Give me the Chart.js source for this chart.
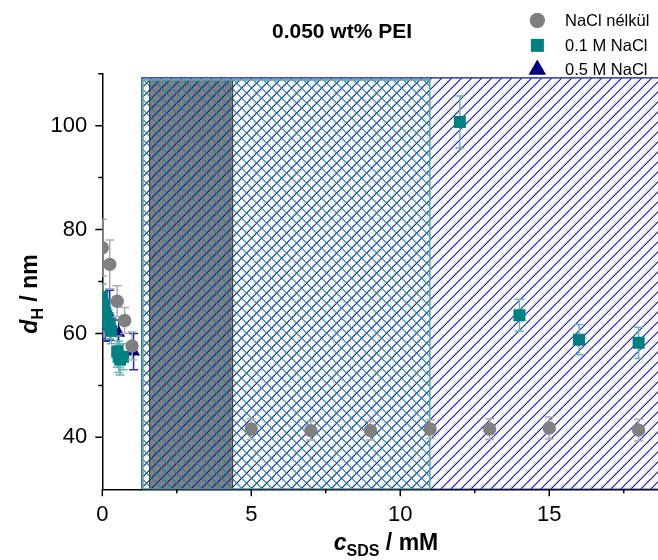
<!DOCTYPE html>
<html>
<head>
<meta charset="utf-8">
<script src="https://cdn.jsdelivr.net/npm/chart.js@4/dist/chart.umd.min.js"></script>
<style>
html,body{margin:0;padding:0;background:#fff;overflow:hidden;width:658px;height:560px;}
canvas{display:block;}
</style>
</head>
<body>
<canvas id="c" width="658" height="560"></canvas>
<script>
// ---- data ----
const grayX = [0, 0.25, 0.5, 0.75, 1.0, 5, 7, 9, 11, 13, 15, 18];
const grayY = [76.5, 73.3, 66.2, 62.5, 57.6, 41.6, 41.3, 41.3, 41.6, 41.6, 41.8, 41.4];
const grayErr = [5.5, 4.7, 3, 2.5, 2.7, 2, 1.8, 1.8, 1.8, 2, 2.1, 2.1];

const tealX = [0, 0.05, 0.1, 0.15, 0.2, 0.25, 0.3, 0.5, 0.55, 0.6, 0.7, 12, 14, 16, 18];
const tealY = [67, 65.5, 64, 63, 62, 61.5, 60.5, 56.5, 55.5, 55, 55.5, 100.7, 63.5, 58.8, 58.2];
const tealErr = [2.5, 2.5, 2.5, 2.5, 2.5, 2.5, 2.5, 3, 3, 3, 2.5, 5, 3.1, 2.9, 3];

const navyX = [0, 0.1, 0.25, 0.55, 1.05];
const navyY = [62, 61.5, 63.5, 60.1, 56.5];
const navyErr = [3, 3, 4.8, 2.5, 3.5];

const xTicks = [0, 5, 10, 15];
const xMinor = [2.5, 7.5, 12.5, 17.5];
const yTicks = [40, 60, 80, 100];
const yMinor = [50, 70, 90, 110];

// phase regions (mM / nm)
const blueRegion = [1.33, 19, 30, 109.2];
const tealRegion = [1.36, 10.99, 30, 108.8];
const grayRegion = [1.59, 4.375, 30, 108.8];

const legendLabels = ['NaCl nélkül', '0.1 M NaCl', '0.5 M NaCl'];
const titleText = '0.050 wt% PEI';

// ---- chart ----
const FAM = 'Arial, "Liberation Sans", sans-serif';
Chart.defaults.font.family = FAM;
Chart.defaults.color = '#000';

const toPts = (xs, ys) => xs.map((x, i) => ({x: x, y: ys[i]}));

function hatch(ctx, x0, y0, x1, y1, dir, spacing, color, width) {
  ctx.save();
  ctx.beginPath(); ctx.rect(x0, y0, x1 - x0, y1 - y0); ctx.clip();
  ctx.strokeStyle = color; ctx.lineWidth = width;
  ctx.beginPath();
  const h = y1 - y0;
  for (let c = x0 - h - spacing; c < x1 + h + spacing; c += spacing) {
    if (dir > 0) { ctx.moveTo(c, y1); ctx.lineTo(c + h, y0); }
    else { ctx.moveTo(c, y0); ctx.lineTo(c + h, y1); }
  }
  ctx.stroke();
  ctx.restore();
}

const regionsPlugin = {
  id: 'regions',
  beforeDatasetsDraw(chart) {
    const ctx = chart.ctx, xs = chart.scales.x, ys = chart.scales.y, a = chart.chartArea;
    const R = r => [xs.getPixelForValue(r[0]), ys.getPixelForValue(r[3]), xs.getPixelForValue(r[1]), ys.getPixelForValue(r[2])];
    ctx.save();
    ctx.beginPath(); ctx.rect(a.left, a.top - 10, a.right - a.left, a.bottom - a.top + 10); ctx.clip();
    const g = R(grayRegion), b = R(blueRegion), t = R(tealRegion);
    ctx.fillStyle = '#808080';
    ctx.fillRect(g[0], g[1], g[2] - g[0], g[3] - g[1]);
    hatch(ctx, b[0], b[1], b[2], b[3], 1, 10, '#1414b4', 1.15);
    hatch(ctx, t[0], t[1], t[2], t[3], -1, 10, '#0e8c88', 1.15);
    ctx.lineWidth = 1;
    ctx.strokeStyle = '#333333';
    ctx.strokeRect(g[0], g[1], g[2] - g[0], g[3] - g[1]);
    ctx.lineWidth = 1.6;
    ctx.strokeStyle = '#3446bb';
    ctx.strokeRect(b[0], b[1], b[2] - b[0], b[3] - b[1]);
    ctx.lineWidth = 1.8;
    ctx.strokeStyle = '#5aaaa6';
    ctx.strokeRect(t[0], t[1], t[2] - t[0], t[3] - t[1]);
    ctx.restore();
  }
};

const errorPlugin = {
  id: 'errbars',
  beforeDatasetDraw(chart, args) {
    const ds = chart.data.datasets[args.index];
    if (!ds.errors) return;
    const ctx = chart.ctx, xs = chart.scales.x, ys = chart.scales.y, a = chart.chartArea;
    ctx.save();
    ctx.beginPath(); ctx.rect(a.left, a.top, a.right - a.left, a.bottom - a.top); ctx.clip();
    ctx.strokeStyle = ds.errColor; ctx.lineWidth = 1.5;
    ds.data.forEach((p, i) => {
      const e = ds.errors[i];
      const px = xs.getPixelForValue(p.x);
      const top = ys.getPixelForValue(p.y + e), bot = ys.getPixelForValue(p.y - e);
      ctx.beginPath();
      ctx.moveTo(px, top); ctx.lineTo(px, bot);
      ctx.moveTo(px - 4.5, top); ctx.lineTo(px + 4.5, top);
      ctx.moveTo(px - 4.5, bot); ctx.lineTo(px + 4.5, bot);
      ctx.stroke();
    });
    ctx.restore();
  }
};

function richText(ctx, parts, cx, cy) {
  let total = 0;
  parts.forEach(p => { ctx.font = p[1]; total += ctx.measureText(p[0]).width; });
  let x = cx - total / 2;
  ctx.textAlign = 'left'; ctx.textBaseline = 'alphabetic';
  parts.forEach(p => { ctx.font = p[1]; ctx.fillText(p[0], x, cy + p[2]); x += ctx.measureText(p[0]).width; });
}

const decoPlugin = {
  id: 'deco',
  afterDraw(chart) {
    const ctx = chart.ctx, xs = chart.scales.x, ys = chart.scales.y, a = chart.chartArea;
    ctx.save();
    ctx.strokeStyle = '#000'; ctx.lineWidth = 1.5;
    ctx.beginPath();
    xTicks.forEach(v => { const p = xs.getPixelForValue(v); ctx.moveTo(p, a.bottom); ctx.lineTo(p, a.bottom + 7); });
    xMinor.forEach(v => { const p = xs.getPixelForValue(v); ctx.moveTo(p, a.bottom); ctx.lineTo(p, a.bottom + 4); });
    yTicks.forEach(v => { const p = ys.getPixelForValue(v); ctx.moveTo(a.left, p); ctx.lineTo(a.left - 7, p); });
    yMinor.forEach(v => { const p = ys.getPixelForValue(v); ctx.moveTo(a.left, p); ctx.lineTo(a.left - 4, p); });
    ctx.stroke();

    ctx.fillStyle = '#000';
    ctx.font = 'bold 21px ' + FAM;
    ctx.textAlign = 'center'; ctx.textBaseline = 'middle';
    ctx.fillText(titleText, 342, 32);

    richText(ctx, [
      ['c', 'italic bold 23px ' + FAM, 0],
      ['SDS', 'bold 16px ' + FAM, 6],
      [' / mM', 'bold 23px ' + FAM, 0]
    ], 386, 550);

    ctx.save();
    ctx.translate(37, 294);
    ctx.rotate(-Math.PI / 2);
    richText(ctx, [
      ['d', 'italic bold 23px ' + FAM, 0],
      ['H', 'bold 16px ' + FAM, 6],
      [' / nm', 'bold 23px ' + FAM, 0]
    ], 0, 0);
    ctx.restore();

    const ds = chart.data.datasets;
    const rows = [[20.5, 0, 7.5], [45.3, 1, 9], [69.5, 2, 9.8]];
    rows.forEach(r => {
      const d = ds[r[1]];
      ctx.fillStyle = d.backgroundColor;
      Chart.helpers.drawPoint(ctx, {pointStyle: d.pointStyle, radius: r[2], rotation: 0, borderWidth: 0}, 537.3, r[0]);
      ctx.fill();
      ctx.fillStyle = '#000';
      ctx.font = '16.5px ' + FAM;
      ctx.textAlign = 'left'; ctx.textBaseline = 'middle';
      ctx.fillText(legendLabels[r[1]], 565, r[0] + 1);
    });
    ctx.restore();
  }
};

new Chart(document.getElementById('c'), {
  type: 'scatter',
  data: {
    datasets: [
      { label: legendLabels[0], data: toPts(grayX, grayY), errors: grayErr, errColor: '#ababab',
        pointStyle: 'circle', pointRadius: 6.7, backgroundColor: '#808080', borderWidth: 0, clip: 0 },
      { label: legendLabels[1], data: toPts(tealX, tealY), errors: tealErr, errColor: '#66b5b1',
        pointStyle: 'rect', pointRadius: 8.5, backgroundColor: '#008080', borderWidth: 0, clip: 0 },
      { label: legendLabels[2], data: toPts(navyX, navyY), errors: navyErr, errColor: '#2a2ab0',
        pointStyle: 'triangle', pointRadius: 7.5, backgroundColor: '#000080', borderWidth: 0, clip: 0 }
    ]
  },
  options: {
    responsive: false,
    animation: false,
    devicePixelRatio: 1,
    layout: { autoPadding: false, padding: { top: 73.7, left: 0, right: 0, bottom: 0 } },
    plugins: { legend: { display: false }, tooltip: { enabled: false }, title: { display: false } },
    scales: {
      x: {
        type: 'linear', min: 0, max: 18.65,
        afterBuildTicks: s => { s.ticks = xTicks.map(v => ({ value: v })); },
        afterFit: s => { s.height = 70.7; },
        grid: { display: false, drawTicks: false },
        border: { display: true, color: '#000', width: 1.5 },
        ticks: { font: { size: 22 }, padding: 12, maxRotation: 0, autoSkip: false, color: '#000' }
      },
      y: {
        type: 'linear', min: 30, max: 110,
        afterBuildTicks: s => { s.ticks = yTicks.map(v => ({ value: v })); },
        afterFit: s => { s.width = 102.3; },
        grid: { display: false, drawTicks: false },
        border: { display: true, color: '#000', width: 1.5 },
        ticks: { font: { size: 22 }, padding: 15, autoSkip: false, color: '#000' }
      }
    }
  },
  plugins: [regionsPlugin, errorPlugin, decoPlugin]
});
</script>
</body>
</html>
